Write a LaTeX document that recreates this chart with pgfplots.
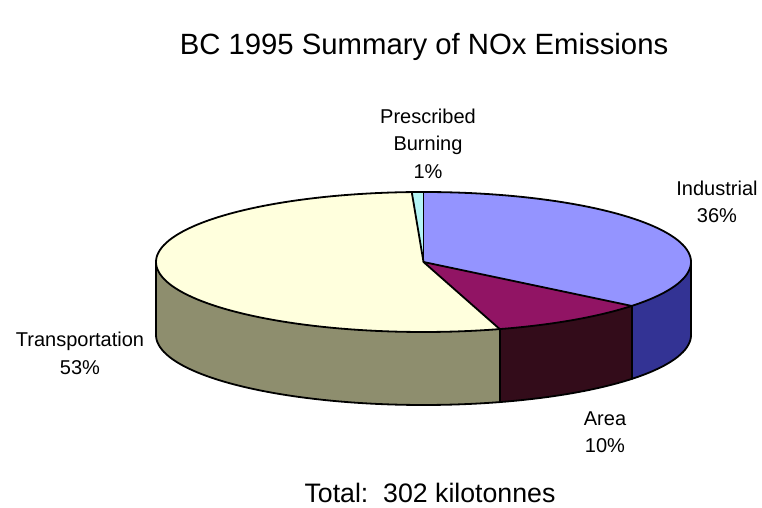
\documentclass[border=0pt]{standalone}
\usepackage{pgfplots}
\pgfplotsset{compat=1.18}
\usepgfplotslibrary{fillbetween}
\usepackage{fontspec}
\setmainfont{Liberation Sans}
\definecolor{indtop}{HTML}{9494FF}
\definecolor{indside}{HTML}{333394}
\definecolor{areatop}{HTML}{911464}
\definecolor{areaside}{HTML}{330C1A}
\definecolor{trtop}{HTML}{FFFFDD}
\definecolor{trside}{HTML}{8E8E6E}
\definecolor{prtop}{HTML}{B4F6F6}
\newcommand\lab{\fontsize{20}{27.5}\selectfont}
\begin{document}
\begin{tikzpicture}
% slice shares (percent of the 302 kt total), clockwise from 12 o'clock
\def\vInd{35.8}\def\vArea{9.6}\def\vTrans{53.9}\def\vPres{0.7}
\pgfmathsetmacro\bA{90-3.6*\vInd}
\pgfmathsetmacro\bB{\bA-3.6*\vArea}
\pgfmathsetmacro\bC{\bB-3.6*\vTrans}
\pgfmathsetmacro\bD{\bC-3.6*\vPres}
\def\cx{423.5}\def\cy{262}\def\rx{267.5}\def\ry{70}\def\dep{73}
\begin{axis}[width=762pt,height=508pt,scale only axis,
  xmin=0,xmax=762,ymin=0,ymax=508,y dir=reverse,hide axis,clip=false,
  outl/.style={black,line width=1.8pt,line join=round,line cap=round}]
\useasboundingbox (rel axis cs:0,0) rectangle (rel axis cs:1,1);
% --- side walls (front half only)
\addplot[draw=none,name path=Ti,domain=\bA:0,samples=40] ({\cx+\rx*cos(x)},{\cy-\ry*sin(x)});
\addplot[draw=none,name path=Bi,domain=\bA:0,samples=40] ({\cx+\rx*cos(x)},{\cy-\ry*sin(x)+\dep});
\addplot[fill=indside] fill between[of=Ti and Bi];
\addplot[draw=none,name path=Ta,domain=\bB:\bA,samples=40] ({\cx+\rx*cos(x)},{\cy-\ry*sin(x)});
\addplot[draw=none,name path=Ba,domain=\bB:\bA,samples=40] ({\cx+\rx*cos(x)},{\cy-\ry*sin(x)+\dep});
\addplot[fill=areaside] fill between[of=Ta and Ba];
\addplot[draw=none,name path=Tt,domain=-180:\bB,samples=80] ({\cx+\rx*cos(x)},{\cy-\ry*sin(x)});
\addplot[draw=none,name path=Bt,domain=-180:\bB,samples=80] ({\cx+\rx*cos(x)},{\cy-\ry*sin(x)+\dep});
\addplot[fill=trside] fill between[of=Tt and Bt];
% --- top wedges
\addplot[draw=none,name path=C,domain=0:1,samples=2] ({\cx},{\cy});
\addplot[draw=none,name path=Ai,domain=\bA:90,samples=80] ({\cx+\rx*cos(x)},{\cy-\ry*sin(x)});
\addplot[fill=indtop] fill between[of=Ai and C];
\addplot[draw=none,name path=Aa,domain=\bB:\bA,samples=40] ({\cx+\rx*cos(x)},{\cy-\ry*sin(x)});
\addplot[fill=areatop] fill between[of=Aa and C];
\addplot[draw=none,name path=At,domain=\bC:\bB,samples=120] ({\cx+\rx*cos(x)},{\cy-\ry*sin(x)});
\addplot[fill=trtop] fill between[of=At and C];
\addplot[draw=none,name path=Ap,domain=\bD:\bC,samples=10] ({\cx+\rx*cos(x)},{\cy-\ry*sin(x)});
\addplot[fill=prtop] fill between[of=Ap and C];
% --- outlines
\addplot[outl,domain=0:360,samples=181] ({\cx+\rx*cos(x)},{\cy-\ry*sin(x)});
\addplot[outl,domain=-180:0,samples=91] ({\cx+\rx*cos(x)},{\cy-\ry*sin(x)+\dep});
\addplot[outl,domain=0:1,samples=2] ({\cx+x*\rx*cos(\bA)},{\cy-x*\ry*sin(\bA)});
\addplot[outl,domain=0:1,samples=2] ({\cx+x*\rx*cos(\bB)},{\cy-x*\ry*sin(\bB)});
\addplot[outl,domain=0:1,samples=2] ({\cx+x*\rx*cos(\bC)},{\cy-x*\ry*sin(\bC)});
\addplot[outl,domain=0:1,samples=2] ({\cx+x*\rx*cos(\bD)},{\cy-x*\ry*sin(\bD)});
\addplot[outl,domain=0:1,samples=2] ({\cx+\rx*cos(\bA)},{\cy-\ry*sin(\bA)+x*\dep});
\addplot[outl,domain=0:1,samples=2] ({\cx+\rx*cos(\bB)},{\cy-\ry*sin(\bB)+x*\dep});
\addplot[outl,domain=0:1,samples=2] ({\cx-\rx},{\cy+x*\dep});
\addplot[outl,domain=0:1,samples=2] ({\cx+\rx},{\cy+x*\dep});
% --- texts
\node[font=\fontsize{29.3}{35}\selectfont] at (axis cs:424,47) {BC 1995 Summary of NOx Emissions};
\node[font=\fontsize{26.7}{31}\selectfont] at (axis cs:430,493) {Total:\ \ 302 kilotonnes};
\node[align=center,font=\lab] at (axis cs:428,143.5) {Prescribed\\Burning\\1\%};
\node[align=center,font=\lab] at (axis cs:717,202) {Industrial\\36\%};
\node[align=center,font=\lab] at (axis cs:80,353.5) {Transportation\\53\%};
\node[align=center,font=\lab] at (axis cs:605,432) {Area\\10\%};
\end{axis}
\end{tikzpicture}
\end{document}
